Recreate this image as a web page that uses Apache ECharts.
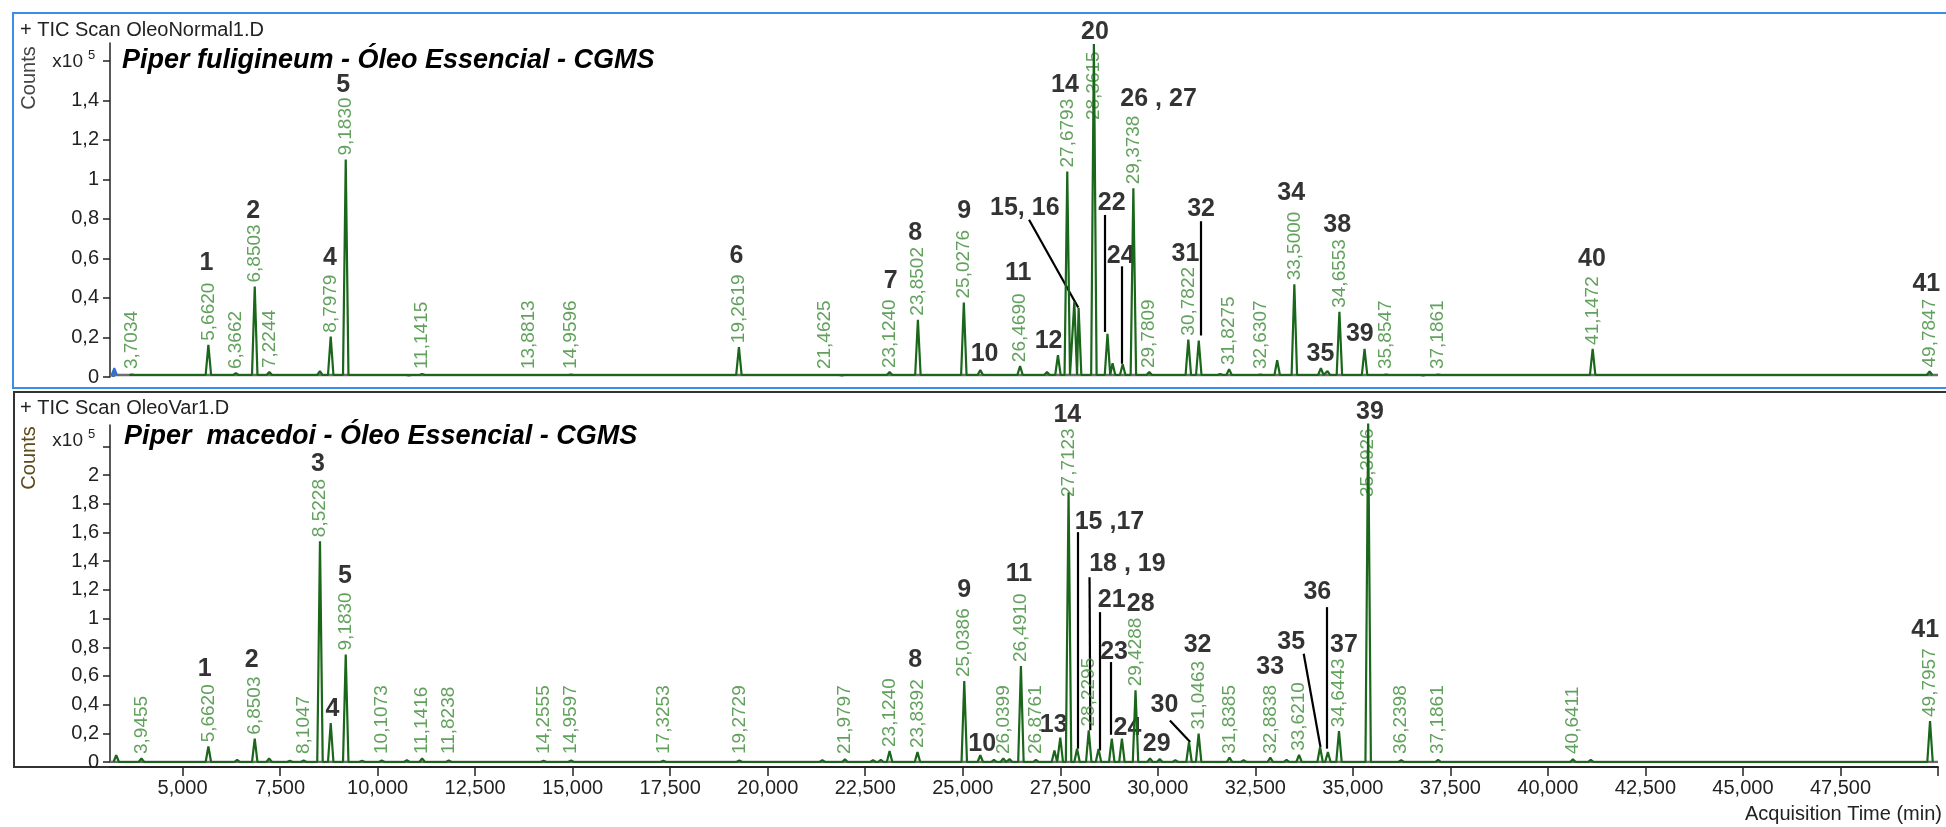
<!DOCTYPE html>
<html>
<head>
<meta charset="utf-8">
<title>TIC Scan - Piper fuligineum / Piper macedoi</title>
<script src="https://cdn.jsdelivr.net/npm/echarts@6.0.0/dist/echarts.min.js"></script>
<style>
  html, body { margin: 0; padding: 0; background: #fff; }
  #main { width: 1946px; height: 827px; }
</style>
</head>
<body>
<div id="main"></div>
<script>
// ---- eixo x (tempo de aquisição, min) ----
var xTicks = [5, 7.5, 10, 12.5, 15, 17.5, 20, 22.5, 25, 27.5, 30, 32.5, 35, 37.5, 40, 42.5, 45, 47.5, 50];
var xLabels = [5, 7.5, 10, 12.5, 15, 17.5, 20, 22.5, 25, 27.5, 30, 32.5, 35, 37.5, 40, 42.5, 45, 47.5];
// ---- eixo y (Counts x10^5) ----
var yTopTicks = [0, 0.2, 0.4, 0.6, 0.8, 1, 1.2, 1.4, 1.6];
var yTopLabels = [0, 0.2, 0.4, 0.6, 0.8, 1, 1.2, 1.4];
var yBotTicks = [0, 0.2, 0.4, 0.6, 0.8, 1, 1.2, 1.4, 1.6, 1.8, 2, 2.2];
var yBotLabels = [0, 0.2, 0.4, 0.6, 0.8, 1, 1.2, 1.4, 1.6, 1.8, 2];

// ---- Piper fuligineum (OleoNormal1.D) : picos, x10^5 counts ----
var topPeakRT = [3.7034, 5.6620, 6.3662, 6.8503, 7.2244, 8.52, 8.7979, 9.1830, 10.80, 11.1415, 13.8813, 14.30, 14.9596,
  19.2619, 21.4625, 21.90, 23.1240, 23.52, 23.8502, 25.0276, 25.45, 26.4690, 27.16, 27.44, 27.6793, 27.86, 27.97,
  28.3615, 28.71, 28.84, 29.10, 29.3738, 29.7809, 30.10, 30.7822, 31.05, 31.60, 31.8275, 32.6307, 33.06, 33.5000,
  34.18, 34.35, 34.6553, 35.30, 35.8547, 36.80, 37.1861, 41.1472, 49.7847];
var topPeakH = [0.012, 0.163, 0.02, 0.458, 0.025, 0.03, 0.204, 1.10, 0.008, 0.015, 0.01, 0.01, 0.012,
  0.151, 0.01, 0.008, 0.025, 0.01, 0.29, 0.377, 0.035, 0.055, 0.025, 0.11, 1.04, 0.38, 0.35,
  1.685, 0.218, 0.07, 0.065, 0.955, 0.025, 0.01, 0.189, 0.184, 0.015, 0.04, 0.012, 0.085, 0.469,
  0.045, 0.03, 0.33, 0.142, 0.012, 0.008, 0.012, 0.142, 0.028];
var topLabelRT = [3.7034, 5.6620, 6.3662, 6.8503, 7.2244, 8.7979, 9.1830, 11.1415, 13.8813, 14.9596, 19.2619,
  21.4625, 23.1240, 23.8502, 25.0276, 26.4690, 27.6793, 28.3615, 29.3738, 29.7809, 30.7822, 31.8275, 32.6307,
  33.5000, 34.6553, 35.8547, 37.1861, 41.1472, 49.7847];
var topNumText = ['1', '2', '4', '5', '6', '7', '8', '9', '10', '11', '12', '14', '15, 16', '20', '22', '24',
  '26 , 27', '31', '32', '34', '35', '38', '39', '40', '41'];
var topNumRT = [5.61, 6.81, 8.78, 9.12, 19.20, 23.15, 23.78, 25.04, 25.56, 26.42, 27.20, 27.62, 26.59, 28.39,
  28.82, 29.05, 30.02, 30.71, 31.11, 33.42, 34.17, 34.60, 35.18, 41.13, 49.70];
var topNumY = [0.578, 0.838, 0.604, 1.475, 0.612, 0.486, 0.729, 0.838, 0.117, 0.528, 0.184, 1.475, 0.855, 1.743,
  0.88, 0.612, 1.408, 0.62, 0.847, 0.93, 0.117, 0.771, 0.218, 0.595, 0.469];
var topLeaders = [
  [[26.70, 0.796], [27.96, 0.352]],
  [[28.65, 0.82], [28.65, 0.228]],
  [[29.07, 0.56], [29.07, 0.067]],
  [[31.09, 0.788], [31.09, 0.21]]
];
var topMarkerRT = [3.25];
var topMarkerH = [0.045];

// ---- Piper macedoi (OleoVar1.D) ----
var botPeakRT = [3.30, 3.9455, 5.6620, 6.40, 6.8503, 7.22, 7.75, 8.1047, 8.5228, 8.7979, 9.1830, 9.60, 10.1073,
  10.75, 11.1416, 11.8238, 14.2555, 14.9597, 17.3253, 19.2729, 21.40, 21.9797, 22.70, 22.90, 23.1240, 23.8392,
  25.0386, 25.45, 25.80, 26.0399, 26.20, 26.4910, 26.8761, 27.35, 27.50, 27.7123, 27.93, 28.2295, 28.48, 28.82,
  29.08, 29.4288, 29.80, 30.05, 30.45, 30.80, 31.0463, 31.8385, 32.20, 32.8838, 33.30, 33.6210, 34.16, 34.36,
  34.6443, 35.3926, 36.2398, 37.1861, 40.6411, 41.10, 49.7957];
var botPeakH = [0.047, 0.024, 0.109, 0.015, 0.163, 0.024, 0.008, 0.01, 1.54, 0.272, 0.75, 0.008, 0.01,
  0.012, 0.025, 0.01, 0.008, 0.01, 0.008, 0.01, 0.012, 0.018, 0.012, 0.015, 0.077, 0.07,
  0.565, 0.047, 0.015, 0.025, 0.02, 0.669, 0.015, 0.08, 0.17, 1.88, 0.093, 0.22, 0.09, 0.163,
  0.163, 0.5, 0.025, 0.02, 0.012, 0.139, 0.198, 0.03, 0.012, 0.03, 0.015, 0.05, 0.105, 0.07,
  0.215, 2.36, 0.012, 0.015, 0.018, 0.015, 0.286];
var botLabelRT = [3.9455, 5.6620, 6.8503, 8.1047, 8.5228, 9.1830, 10.1073, 11.1416, 11.8238, 14.2555, 14.9597,
  17.3253, 19.2729, 21.9797, 23.1240, 23.8392, 25.0386, 26.0399, 26.4910, 26.8761, 27.7123, 28.2295, 29.4288,
  31.0463, 31.8385, 32.8838, 33.6210, 34.6443, 35.3926, 36.2398, 37.1861, 40.6411, 49.7957];
var botNumText = ['1', '2', '3', '4', '5', '8', '9', '10', '11', '13', '14', '15 ,17', '18 , 19', '21', '28',
  '23', '24', '29', '30', '32', '33', '35', '36', '37', '39', '41'];
var botNumRT = [5.57, 6.77, 8.47, 8.84, 9.16, 23.78, 25.04, 25.50, 26.44, 27.33, 27.68, 28.76, 29.22, 28.82,
  29.56, 28.88, 29.22, 29.97, 30.17, 31.02, 32.88, 33.42, 34.09, 34.77, 35.44, 49.67];
var botNumY = [0.651, 0.709, 2.079, 0.372, 1.294, 0.709, 1.197, 0.128, 1.313, 0.256, 2.416, 1.672, 1.383, 1.127,
  1.104, 0.767, 0.233, 0.128, 0.395, 0.813, 0.662, 0.836, 1.185, 0.813, 2.44, 0.918];
var botLeaders = [
  [[27.94, 1.603], [27.94, 0.093]],
  [[28.25, 1.289], [28.27, 0.221]],
  [[28.51, 1.045], [28.51, 0.08]],
  [[28.79, 0.697], [28.79, 0.19]],
  [[30.31, 0.29], [30.83, 0.139]],
  [[33.74, 0.755], [34.17, 0.105]],
  [[34.32, 1.08], [34.32, 0.093]]
];

// ---- estilo ----
var X_MIN = 3.14, X_MAX = 50.0;
var PEAK_HW = 0.07;          // meia-largura do pico (min)
var GREEN = '#1a661a', LABEL_GREEN = '#3b8a34', GRAY = '#6e6e6e';
var FONT = '"Liberation Sans", Arial, sans-serif';

function fmtRT(v) { return v.toFixed(4).replace('.', ','); }
function fmtY(v) { return String(Math.round(v * 10) / 10).replace('.', ','); }

function peakLine(rt, h, base) {
  var pts = [];
  rt.forEach(function (t, i) {
    pts.push([t - PEAK_HW, base], [t, h[i]], [t + PEAK_HW, base]);
  });
  return pts;
}

function rtLabels(labels, rt, h, minV, cap) {
  return labels.map(function (t) {
    var best = 0;
    rt.forEach(function (r, i) { if (Math.abs(r - t) < Math.abs(rt[best] - t)) best = i; });
    var y = Math.min(Math.max(h[best], minV), cap);
    return { name: fmtRT(t), value: [t, y] };
  });
}

function numLabels(text, rt, y) {
  return text.map(function (s, i) { return { name: s, value: [rt[i], y[i]] }; });
}

function panelSeries(idx, peaksRT, peaksH, base, labelRT, minV, cap, nText, nRT, nY, leaders) {
  return [
    {
      type: 'line', xAxisIndex: idx, yAxisIndex: idx, symbol: 'none', silent: true,
      data: [[X_MIN, base], [X_MAX, base]],
      lineStyle: { color: GRAY, width: 2.5 }
    },
    {
      type: 'line', xAxisIndex: idx, yAxisIndex: idx, symbol: 'none', silent: true, clip: false,
      data: peakLine(peaksRT, peaksH, base),
      lineStyle: { color: GREEN, width: 2.2 }
    },
    {
      type: 'scatter', xAxisIndex: idx, yAxisIndex: idx, symbolSize: 0, silent: true, clip: false,
      data: rtLabels(labelRT, peaksRT, peaksH, minV, cap),
      label: {
        show: true, position: 'top', distance: 4, rotate: 90, align: 'left', verticalAlign: 'middle',
        formatter: '{b}', color: LABEL_GREEN, fontFamily: FONT, fontSize: 19
      }
    },
    {
      type: 'lines', coordinateSystem: 'cartesian2d', xAxisIndex: idx, yAxisIndex: idx, silent: true,
      data: leaders.map(function (c) { return { coords: c }; }),
      lineStyle: { color: '#000', width: 2.2, opacity: 1 }
    },
    {
      type: 'scatter', xAxisIndex: idx, yAxisIndex: idx, symbolSize: 0, silent: true, clip: false,
      data: numLabels(nText, nRT, nY),
      label: {
        show: true, position: 'inside', formatter: '{b}', color: '#000',
        fontFamily: FONT, fontWeight: 'bold', fontSize: 25
      }
    }
  ];
}

function yAxisFor(grid, max, ticks, labels) {
  return {
    type: 'value', gridIndex: grid, min: 0, max: max,
    axisLine: { show: true, lineStyle: { color: '#222', width: 1.5 } },
    axisTick: { show: true, length: 7, customValues: ticks, lineStyle: { color: '#222', width: 1.5 } },
    axisLabel: { customValues: labels, formatter: fmtY, color: '#222', fontFamily: FONT, fontSize: 20, margin: 11 },
    splitLine: { show: false }
  };
}

var chart = echarts.init(document.getElementById('main'), null, { renderer: 'canvas' });

var series = []
  .concat(panelSeries(0, topPeakRT, topPeakH, 0.01, topLabelRT, 0.02, 1.28,
    topNumText, topNumRT, topNumY, topLeaders))
  .concat(panelSeries(1, botPeakRT, botPeakH, 0, botLabelRT, 0.028, 1.82,
    botNumText, botNumRT, botNumY, botLeaders));

// pequeno marcador azul no início do cromatograma superior
series.push({
  type: 'line', xAxisIndex: 0, yAxisIndex: 0, symbol: 'none', silent: true,
  data: peakLine(topMarkerRT, topMarkerH, 0.01),
  lineStyle: { color: '#2f6fd6', width: 2 }, areaStyle: { color: '#2f6fd6', opacity: 1 }
});

chart.setOption({
  animation: false,
  backgroundColor: '#fff',
  grid: [
    { left: 110, top: 43, width: 1828, height: 334 },
    { left: 110, top: 425, width: 1828, height: 337 }
  ],
  xAxis: [
    { type: 'value', gridIndex: 0, min: X_MIN, max: X_MAX, show: false },
    {
      type: 'value', gridIndex: 1, min: X_MIN, max: X_MAX, offset: 5,
      axisLine: { show: true, onZero: false, lineStyle: { color: '#222', width: 2 } },
      axisTick: { show: true, length: 9, customValues: xTicks, lineStyle: { color: '#222', width: 1.5 } },
      axisLabel: {
        customValues: xLabels, margin: 11, color: '#222', fontFamily: FONT, fontSize: 20,
        formatter: function (v) { return v.toFixed(3).replace('.', ','); }
      },
      splitLine: { show: false }
    }
  ],
  yAxis: [
    yAxisFor(0, 1.69, yTopTicks, yTopLabels),
    yAxisFor(1, 2.35, yBotTicks, yBotLabels)
  ],
  graphic: [
    { type: 'rect', shape: { x: 13, y: 13, width: 1940, height: 375 },
      style: { fill: 'none', stroke: '#3a8ee6', lineWidth: 2 } },
    { type: 'polyline', shape: { points: [[1950, 392], [14, 392], [14, 767], [110, 767]] },
      style: { fill: 'none', stroke: '#333', lineWidth: 2 } },
    { type: 'text', x: 20, y: 30, style: { text: '+ TIC Scan OleoNormal1.D', font: '20px ' + FONT,
      fill: '#222', textVerticalAlign: 'middle' } },
    { type: 'text', x: 20, y: 408, style: { text: '+ TIC Scan OleoVar1.D', font: '20px ' + FONT,
      fill: '#222', textVerticalAlign: 'middle' } },
    { type: 'text', x: 29, y: 78, rotation: Math.PI / 2, style: { text: 'Counts', font: '20px ' + FONT,
      fill: '#444', textAlign: 'center', textVerticalAlign: 'middle' } },
    { type: 'text', x: 29, y: 458, rotation: Math.PI / 2, style: { text: 'Counts', font: '20px ' + FONT,
      fill: '#5c4a1a', textAlign: 'center', textVerticalAlign: 'middle' } },
    { type: 'text', x: 83, y: 62, style: { text: 'x10', font: '19px ' + FONT, fill: '#222',
      textAlign: 'right', textVerticalAlign: 'middle' } },
    { type: 'text', x: 88, y: 55, style: { text: '5', font: '13px ' + FONT, fill: '#222',
      textAlign: 'left', textVerticalAlign: 'middle' } },
    { type: 'text', x: 83, y: 441, style: { text: 'x10', font: '19px ' + FONT, fill: '#222',
      textAlign: 'right', textVerticalAlign: 'middle' } },
    { type: 'text', x: 88, y: 434, style: { text: '5', font: '13px ' + FONT, fill: '#222',
      textAlign: 'left', textVerticalAlign: 'middle' } },
    { type: 'text', x: 122, y: 61, style: { text: 'Piper fuligineum - Óleo Essencial - CGMS',
      font: 'italic bold 27px ' + FONT, fill: '#000', textVerticalAlign: 'middle' } },
    { type: 'text', x: 124, y: 437, style: { text: 'Piper  macedoi - Óleo Essencial - CGMS',
      font: 'italic bold 27px ' + FONT, fill: '#000', textVerticalAlign: 'middle' } },
    { type: 'text', x: 1942, y: 814, style: { text: 'Acquisition Time (min)', font: '20px ' + FONT,
      fill: '#222', textAlign: 'right', textVerticalAlign: 'middle' } }
  ],
  series: series
});
</script>
</body>
</html>
